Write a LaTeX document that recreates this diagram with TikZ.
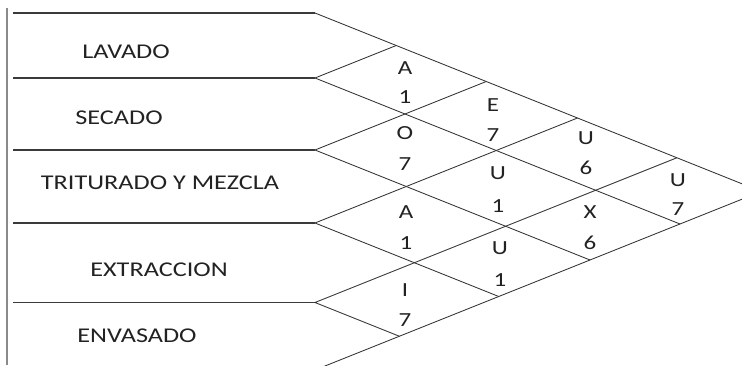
\documentclass[tikz,border=0pt]{standalone}
\usepackage{fontspec}
\setmainfont{Carlito}[FakeStretch=1.25]
\definecolor{ink}{HTML}{222222}
\definecolor{linegray}{HTML}{3A3A3A}
\definecolor{sidegray}{HTML}{8A8A8A}
\begin{document}
\begin{tikzpicture}[x=1pt,y=-1pt,
  rowline/.style={draw=linegray,line width=1.3pt},
  diag/.style={draw=linegray,line width=0.9pt},
  sideline/.style={draw=sidegray,line width=1.4pt},
  lbl/.style={inner sep=0pt,text=ink,font=\fontsize{21}{24}\selectfont},
  cell/.style={inner sep=0pt,text=ink,font=\fontsize{20}{24}\selectfont}]
\useasboundingbox (0,0) rectangle (742,365);
\clip (0,0) rectangle (742,365);
% left border
\coordinate (V0) at (7,8);
\coordinate (V1) at (7,365);
\draw[sideline] (V0) -- (V1);
% row boundaries
\coordinate (L0) at (13,13);    \coordinate (B0) at (315,13);
\coordinate (L1) at (13,78);    \coordinate (B1) at (315,78);
\coordinate (L2) at (13,150);   \coordinate (B2) at (315,150);
\coordinate (L3) at (13,223);   \coordinate (B3) at (315,223);
\coordinate (L4) at (13,302.5); \coordinate (B4) at (315,302.5);
\coordinate (B5) at (315,370);
% lattice points
\coordinate (X01) at (396.25,45.5);
\coordinate (X02) at (486.25,81.5);
\coordinate (X03) at (577.5,118);
\coordinate (X04) at (676.9,157.75);
\coordinate (X05) at (761.25,191.5);
\coordinate (X15) at (680,224);
\coordinate (X25) at (590,260);
\coordinate (X35) at (498.75,296.5);
\coordinate (X45) at (399.4,336.25);
% horizontal lines
\foreach \i in {0,...,4} \draw[rowline] (L\i) -- (B\i);
% diagonals
\draw[diag] (B0) -- (X05) -- (B5);
\draw[diag] (X01) -- (B1) -- (X15);
\draw[diag] (X02) -- (B2) -- (X25);
\draw[diag] (X03) -- (B3) -- (X35);
\draw[diag] (X04) -- (B4) -- (X45);
% row labels
\node[lbl] (r1) at (126,52) {LAVADO};
\node[lbl] (r2) at (119,118) {SECADO};
\node[lbl] (r3) at (160,183) {TRITURADO Y MEZCLA};
\node[lbl] (r4) at (159,270) {EXTRACCION};
\node[lbl] (r5) at (137,336) {ENVASADO};
% relationship cells
\node[cell] (c12a) at (405,68) {A};   \node[cell] (c12n) at (405,97) {1};
\node[cell] (c13a) at (493,105) {E};  \node[cell] (c13n) at (493,135) {7};
\node[cell] (c23a) at (405,133) {O};  \node[cell] (c23n) at (405,164) {7};
\node[cell] (c14a) at (586,138) {U};  \node[cell] (c14n) at (586,168) {6};
\node[cell] (c24a) at (498,173) {U};  \node[cell] (c24n) at (498,206) {1};
\node[cell] (c15a) at (678,180) {U};  \node[cell] (c15n) at (678,209) {7};
\node[cell] (c34a) at (406,212) {A};  \node[cell] (c34n) at (406,243) {1};
\node[cell] (c25a) at (590,212) {X};  \node[cell] (c25n) at (590,243) {6};
\node[cell] (c35a) at (500,248) {U};  \node[cell] (c35n) at (500,280) {1};
\node[cell] (c45a) at (405,290) {I};  \node[cell] (c45n) at (405,320) {7};
\end{tikzpicture}
\end{document}
